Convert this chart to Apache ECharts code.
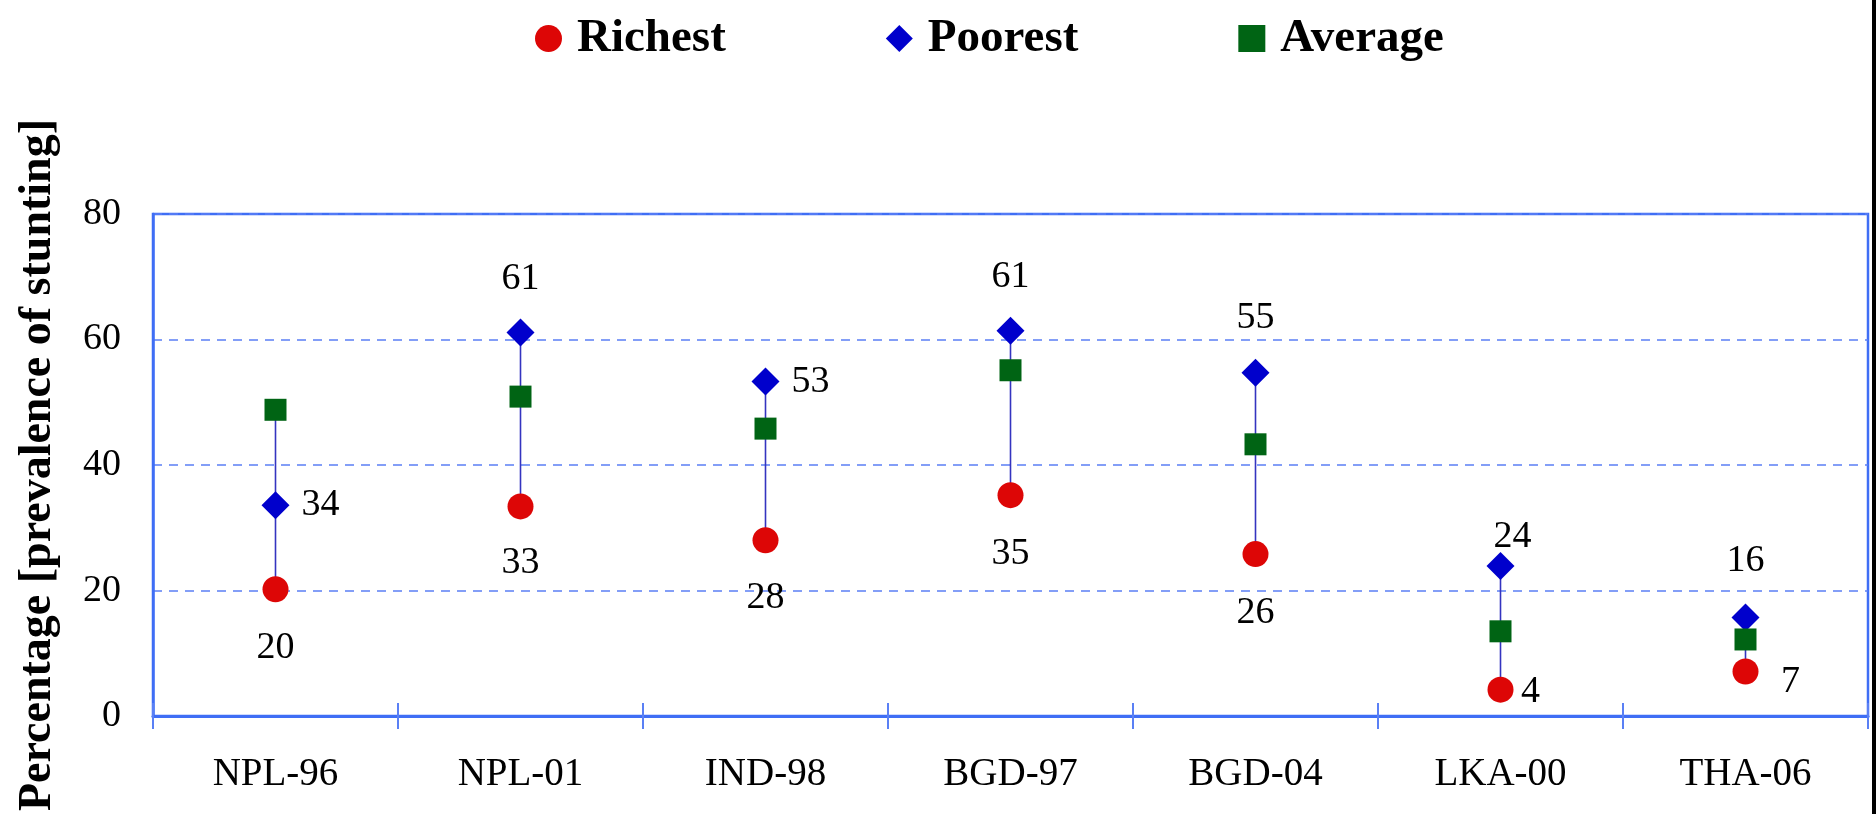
<!DOCTYPE html>
<html>
<head>
<meta charset="utf-8">
<script src="https://cdn.jsdelivr.net/npm/echarts@6/dist/echarts.min.js"></script>
<style>
html,body{margin:0;padding:0;background:#fff;}
#chart{width:1876px;height:814px;}
</style>
</head>
<body>
<div id="chart"></div>
<script>
// ---- data ----
const categories = ['NPL-96', 'NPL-01', 'IND-98', 'BGD-97', 'BGD-04', 'LKA-00', 'THA-06'];
const richest = [20.2, 33.4, 28.0, 35.2, 25.8, 4.2, 7.1];
const poorest = [33.6, 61.1, 53.3, 61.4, 54.7, 23.9, 15.7];
const average = [48.8, 50.9, 45.8, 55.1, 43.3, 13.5, 12.2];
const yTicks = [0, 20, 40, 60, 80];

// ---- label placement (style, kept apart from values) ----
const richestLabelOffset = [[0, 59], [0, 57], [0, 58], [0, 59], [0, 59], [30, 2], [45, 11]];
const poorestLabelOffset = [[45, 0], [0, -54], [45, 0], [0, -54], [0, -55], [12, -29], [0, -56]];

const FONT = '"Liberation Serif", "Times New Roman", serif';
const AXIS_BLUE = '#3f6ef5';

const ranges = categories.map((c, i) => {
  const vals = [richest[i], poorest[i], average[i]];
  return [i, Math.min.apply(null, vals), Math.max.apply(null, vals)];
});

function labelled(values, offsets) {
  return values.map((v, i) => ({
    value: [i, v],
    label: { offset: offsets[i] }
  }));
}

const labelBase = {
  show: true,
  position: 'inside',
  color: '#000',
  fontFamily: FONT,
  fontSize: 38,
  formatter: p => String(Math.round(p.value[1]))
};

const chart = echarts.init(document.getElementById('chart'), null, { renderer: 'canvas' });
chart.setOption({
  animation: false,
  backgroundColor: '#fff',
  legend: {
    left: 530,
    top: 10,
    itemWidth: 27,
    itemHeight: 27,
    itemGap: 160,
    selectedMode: false,
    textStyle: {
      fontFamily: FONT,
      fontWeight: 'bold',
      fontSize: 47,
      color: '#000',
      padding: [0, 0, 0, 10],
      width: 150
    },
    data: [
      { name: 'Richest', icon: 'circle' },
      { name: 'Poorest', icon: 'diamond' },
      { name: 'Average', icon: 'rect' }
    ]
  },
  grid: {
    left: 153, right: 8, top: 214, bottom: 95,
    show: true,
    borderColor: AXIS_BLUE,
    borderWidth: 2.5,
    backgroundColor: 'transparent'
  },
  xAxis: [
    {
      type: 'category',
      data: categories,
      boundaryGap: true,
      axisLine: { show: true, lineStyle: { color: AXIS_BLUE, width: 3 } },
      axisTick: { show: true, length: 13, interval: 0, lineStyle: { color: '#5a80f5', width: 2 } },
      axisLabel: { fontFamily: FONT, fontSize: 39, color: '#000', margin: 39, interval: 0 }
    },
    {
      type: 'category',
      data: categories,
      position: 'bottom',
      boundaryGap: true,
      axisLine: { show: false },
      axisTick: { show: true, inside: true, length: 13, interval: 0, lineStyle: { color: '#5a80f5', width: 2 } },
      axisLabel: { show: false },
      splitLine: { show: false }
    }
  ],
  yAxis: {
    type: 'value',
    min: yTicks[0],
    max: yTicks[yTicks.length - 1],
    interval: 20,
    name: 'Percentage [prevalence of stunting]',
    nameLocation: 'middle',
    nameRotate: 90,
    nameGap: 92,
    nameTextStyle: { fontFamily: FONT, fontWeight: 'bold', fontSize: 46, color: '#000', padding: [0, 0, 0, 0] },
    axisLine: { show: true, lineStyle: { color: AXIS_BLUE, width: 2.5 } },
    axisTick: { show: false },
    axisLabel: { fontFamily: FONT, fontSize: 38, color: '#000', margin: 32 },
    splitLine: { show: true, lineStyle: { color: '#5b7ff5', width: 1.5, type: [9, 7] } }
  },
  series: [
    {
      type: 'custom',
      name: 'range',
      xAxisIndex: 0,
      z: 1,
      silent: true,
      data: ranges,
      encode: { x: 0, y: [1, 2] },
      renderItem: function (params, api) {
        const x = api.value(0);
        const p1 = api.coord([x, api.value(1)]);
        const p2 = api.coord([x, api.value(2)]);
        return {
          type: 'line',
          shape: { x1: p1[0], y1: p1[1], x2: p2[0], y2: p2[1] },
          style: { stroke: '#3434c0', lineWidth: 1.6 }
        };
      }
    },
    {
      type: 'scatter',
      name: 'Richest',
      z: 3,
      symbol: 'circle',
      symbolSize: 26,
      itemStyle: { color: '#dd0606', opacity: 1 },
      label: labelBase,
      data: labelled(richest, richestLabelOffset)
    },
    {
      type: 'scatter',
      name: 'Poorest',
      z: 3,
      symbol: 'diamond',
      symbolSize: 28,
      itemStyle: { color: '#0000cc', opacity: 1 },
      label: labelBase,
      data: labelled(poorest, poorestLabelOffset)
    },
    {
      type: 'scatter',
      name: 'Average',
      z: 3,
      symbol: 'rect',
      symbolSize: 22,
      itemStyle: { color: '#006414', opacity: 1 },
      label: { show: false },
      data: average.map((v, i) => [i, v])
    }
  ],
  graphic: [
    { type: 'rect', left: 1872, top: 0, shape: { width: 4, height: 814 }, style: { fill: '#000' }, silent: true }
  ]
});
</script>
</body>
</html>
